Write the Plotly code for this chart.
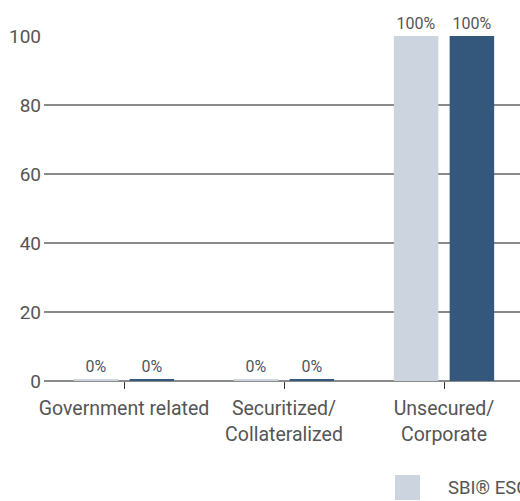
import plotly.graph_objects as go

categories = ["Government related", "Securitized/<br>Collateralized", "Unsecured/<br>Corporate"]
series_names = ["SBI® ESG AAA-BBB 1-3 Index", "Portfolio"]
index_values = [0.3, 0.3, 100]
fund_values = [0.3, 0.3, 100]
value_labels_index = ["0%", "0%", "100%"]
value_labels_fund = ["0%", "0%", "100%"]
y_ticks = [0, 20, 40, 60, 80, 100]

colors = ["#CCD4DF", "#34577C"]
FONT = "Roboto, sans-serif"
TXT = "#555555"

fig = go.Figure()
for name, vals, labels, col in [
    (series_names[0], index_values, value_labels_index, colors[0]),
    (series_names[1], fund_values, value_labels_fund, colors[1]),
]:
    fig.add_trace(go.Bar(
        x=list(range(len(categories))), y=vals, name=name,
        marker=dict(color=col, line=dict(width=0)),
        text=labels, textposition="outside", cliponaxis=False, constraintext="none",
        textfont=dict(family=FONT, size=16, color=TXT),
        showlegend=False,
    ))

# legend (first entry visible, second falls outside the crop)
px0, px1, py0, py1 = 44, 520, 36, 381
def xp(p):
    return (p - px0) / (px1 - px0)
def yp(p):
    return (py1 - p) / (py1 - py0)

fig.add_shape(type="rect", xref="paper", yref="paper",
              x0=xp(395), x1=xp(420), y0=yp(500), y1=yp(475),
              fillcolor=colors[0], line=dict(width=0))
fig.add_annotation(xref="paper", yref="paper", x=xp(446), y=yp(488),
                   text=series_names[0], showarrow=False, xanchor="left", yanchor="middle",
                   font=dict(family=FONT, size=18.5, color=TXT))
fig.add_shape(type="rect", xref="paper", yref="paper",
              x0=xp(700), x1=xp(725), y0=yp(500), y1=yp(475),
              fillcolor=colors[1], line=dict(width=0))

fig.update_layout(
    width=520, height=501,
    margin=dict(l=44, r=0, t=36, b=120, autoexpand=False),
    paper_bgcolor="white", plot_bgcolor="white",
    barmode="group", bargap=0.3025, bargroupgap=0.2025,
    font=dict(family=FONT, size=20, color=TXT),
    xaxis=dict(
        tickmode="array", tickvals=list(range(len(categories))), ticktext=categories,
        range=[-0.5, 2.475], showgrid=False, zeroline=False, showline=False,
        ticks="outside", ticklen=7, tickwidth=1, tickcolor="#333333",
        tickangle=0, automargin=False, ticklabelstandoff=3,
        tickfont=dict(family=FONT, size=19.5, color=TXT),
    ),
    yaxis=dict(
        range=[0, 100], tickvals=y_ticks, showgrid=True, gridcolor="#8a8a8a", gridwidth=1.5,
        zeroline=True, zerolinecolor="#8a8a8a", zerolinewidth=1.5,
        showline=False, ticks="", ticklabelstandoff=2, automargin=False,
        tickfont=dict(family=FONT, size=19, color=TXT),
    ),
)

fig.write_html("out.html")
